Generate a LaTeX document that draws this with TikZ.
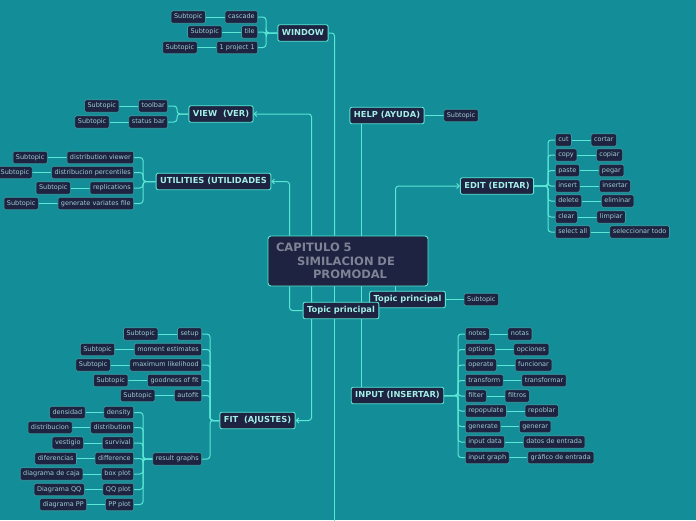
\documentclass[tikz,border=0pt]{standalone}
\usepackage{fontspec}
\setmainfont{DejaVu Sans}
\usetikzlibrary{arrows.meta,calc}
\definecolor{bgc}{HTML}{138E98}
\definecolor{nfill}{HTML}{1D2340}
\definecolor{lnc}{HTML}{5CE6D6}
\definecolor{sbord}{HTML}{3E9AA0}
\definecolor{mtext}{HTML}{A4EEE8}
\definecolor{stext}{HTML}{A0CDD2}
\definecolor{ctext}{HTML}{7E8396}
\pgfdeclarelayer{bg}
\pgfsetlayers{bg,main}
\tikzset{
  mainnode/.style={draw=lnc, fill=nfill, line width=0.9pt, rounded corners=2pt, text=mtext,
    font=\bfseries\fontsize{8.3}{10}\selectfont, inner xsep=4pt, inner ysep=0pt, minimum height=16.5pt,
    text height=6.1pt, text depth=1.7pt},
  subnode/.style={draw=sbord, fill=nfill, line width=0.6pt, rounded corners=1.5pt, text=stext,
    font=\fontsize{6.5}{7.5}\selectfont, inner xsep=3pt, inner ysep=0pt, minimum height=12.5pt,
    text height=4.9pt, text depth=1.4pt},
  link/.style={draw=lnc, line width=1pt, rounded corners=3pt},
  thin link/.style={draw=lnc, line width=0.9pt},
  arr/.style={-{Straight Barb[length=2.5pt,width=5pt]}}
}
\begin{document}
\begin{tikzpicture}[x=1pt,y=-1pt]
\useasboundingbox (0,0) rectangle (696,520);
\begin{pgfonlayer}{bg}
\fill[bgc] (0,0) rectangle (696,520);
\end{pgfonlayer}

% central
\node[draw=lnc, fill=nfill, line width=0.9pt, rounded corners=3pt, minimum width=160pt, minimum height=50pt,
  text width=144pt, inner xsep=8pt, align=left, text=ctext, font=\bfseries\fontsize{11.5}{13.5}\selectfont]
  (c) at (348,261) {CAPITULO 5\\\hspace*{21pt}SIMILACION DE\\\hspace*{37pt}PROMODAL};

% main topics
\node[mainnode] (win) at (303,33) {WINDOW};
\node[mainnode] (view) at (221,114) {VIEW\ \ (VER)};
\node[mainnode] (util) at (213.5,181.5) {UTILITIES (UTILIDADES};
\node[mainnode] (help) at (387,115.5) {HELP (AYUDA)};
\node[mainnode] (edit) at (497,186) {EDIT (EDITAR)};
\node[mainnode] (tp1) at (407.5,299.5) {Topic principal};
\node[mainnode] (tp2) at (341,310.5) {Topic principal};
\node[mainnode] (fit) at (257.5,420.5) {FIT\ \ (AJUSTES)};
\node[mainnode] (inp) at (397.5,395.5) {INPUT (INSERTAR)};

% central connectors
\coordinate (u1) at ($(c.north west)+(22,0)$);
\coordinate (u2) at ($(c.north west)+(44,0)$);
\coordinate (u3) at ($(c.north west)+(67,0)$);
\coordinate (u4) at ($(c.north west)+(94,0)$);
\coordinate (u5) at ($(c.north west)+(128,0)$);
\coordinate (d1) at ($(c.south west)+(22,0)$);
\coordinate (d2) at ($(c.south west)+(44,0)$);
\coordinate (d3) at ($(c.south west)+(67,0)$);
\coordinate (d4) at ($(c.south west)+(94,0)$);
\coordinate (d5) at ($(c.south west)+(128,0)$);
\coordinate (bottomend) at (335,530);
\begin{pgfonlayer}{bg}
\draw[link,arr] (u1) |- (util.east);
\draw[link,arr] (u2) |- (view.east);
\draw[link] (u3) |- (win.east);
\draw[link] (u4) -- (u4 |- help.south);
\draw[link,arr] (u5) |- (edit.west);
\draw[link] (d1) |- (tp2.west);
\draw[link,arr] (d2) |- (fit.east);
\draw[link] (d3) -- (d3 |- bottomend);
\draw[link] (d4) -- (d4 |- inp.north);
\draw[link] (d5) -- (d5 |- tp1.north);
\end{pgfonlayer}

% WINDOW
\coordinate (wb) at (266,33);
\foreach \n/\y/\t in {w1/17/cascade,w2/32/tile,w3/47.5/1 project 1}{
  \node[subnode,anchor=east] (\n) at (258,\y) {\t};
  \node[subnode,anchor=east] (\n s) at ([xshift=-19pt]\n.west) {Subtopic};
  \begin{pgfonlayer}{bg}
  \draw[link] (win.west) -- (wb) |- (\n.east);
  \draw[thin link] (\n.west) -- (\n s.east);
  \end{pgfonlayer}
}

% VIEW
\coordinate (vb) at (177,114);
\foreach \n/\y/\t in {v1/106/toolbar,v2/122/status bar}{
  \node[subnode,anchor=east] (\n) at (168,\y) {\t};
  \node[subnode,anchor=east] (\n s) at ([xshift=-19pt]\n.west) {Subtopic};
  \begin{pgfonlayer}{bg}
  \draw[link] (view.west) -- (vb) |- (\n.east);
  \draw[thin link] (\n.west) -- (\n s.east);
  \end{pgfonlayer}
}

% UTILITIES
\coordinate (ub) at (143,181.5);
\foreach \n/\y/\t in {ut1/157.5/distribution viewer,ut2/172.5/distribucion percentiles,ut3/188/replications,ut4/203.5/generate variates file}{
  \node[subnode,anchor=east] (\n) at (134,\y) {\t};
  \node[subnode,anchor=east] (\n s) at ([xshift=-19pt]\n.west) {Subtopic};
  \begin{pgfonlayer}{bg}
  \draw[link] (util.west) -- (ub) |- (\n.east);
  \draw[thin link] (\n.west) -- (\n s.east);
  \end{pgfonlayer}
}

% HELP
\node[subnode,anchor=west] (hs) at ([xshift=19pt]help.east) {Subtopic};
\begin{pgfonlayer}{bg}
\draw[thin link] (help.east) -- (hs.west);
\end{pgfonlayer}

% Topic principal (upper)
\node[subnode,anchor=west] (tps) at ([xshift=18pt]tp1.east) {Subtopic};
\begin{pgfonlayer}{bg}
\draw[thin link] (tp1.east) -- (tps.west);
\end{pgfonlayer}

% EDIT
\coordinate (eb) at (548,186);
\foreach \n/\y/\t/\g in {e1/140/cut/cortar,e2/155/copy/copiar,e3/170.5/paste/pegar,e4/186/insert/insertar,
  e5/201/delete/eliminar,e6/217/clear/limpiar,e7/232/select all/seleccionar todo}{
  \node[subnode,anchor=west] (\n) at (555,\y) {\t};
  \node[subnode,anchor=west] (\n s) at ([xshift=19pt]\n.east) {\g};
  \begin{pgfonlayer}{bg}
  \draw[link] (edit.east) -- (eb) |- (\n.west);
  \draw[thin link] (\n.east) -- (\n s.west);
  \end{pgfonlayer}
}

% FIT
\coordinate (fb) at (210,420.5);
\foreach \n/\y/\t in {f1/334/setup,f2/349.5/moment estimates,f3/365/maximum likelihood,f4/380.5/goodness of fit,f5/395.5/autofit}{
  \node[subnode,anchor=east] (\n) at (202,\y) {\t};
  \node[subnode,anchor=east] (\n s) at ([xshift=-19pt]\n.west) {Subtopic};
  \begin{pgfonlayer}{bg}
  \draw[link] (fit.west) -- (fb) |- (\n.east);
  \draw[thin link] (\n.west) -- (\n s.east);
  \end{pgfonlayer}
}
\node[subnode,anchor=east] (rg) at (202,459) {result graphs};
\begin{pgfonlayer}{bg}
\draw[link] (fit.west) -- (fb) |- (rg.east);
\end{pgfonlayer}

% result graphs
\coordinate (rb) at (143,459);
\foreach \n/\y/\t/\g in {r1/412.5/density/densidad,r2/427.5/distribution/distribucion,r3/443/survival/vestigio,
  r4/458.5/difference/diferencias,r5/474/box plot/diagrama de caja,r6/489.5/QQ plot/Diagrama QQ,r7/504.5/PP plot/diagrama PP}{
  \node[subnode,anchor=east] (\n) at (134,\y) {\t};
  \node[subnode,anchor=east] (\n s) at ([xshift=-18pt]\n.west) {\g};
  \begin{pgfonlayer}{bg}
  \draw[link] (rg.west) -- (rb) |- (\n.east);
  \draw[thin link] (\n.west) -- (\n s.east);
  \end{pgfonlayer}
}

% INPUT
\coordinate (ib) at (458,395.5);
\foreach \n/\y/\t/\g in {i1/334/notes/notas,i2/349.5/options/opciones,i3/365/operate/funcionar,
  i4/380.5/transform/transformar,i5/396/filter/filtros,i6/411/repopulate/repoblar,i7/426.5/generate/generar,
  i8/442/input data/datos de entrada,i9/457.5/input graph/gráfico de entrada}{
  \node[subnode,anchor=west] (\n) at (465,\y) {\t};
  \node[subnode,anchor=west] (\n s) at ([xshift=18pt]\n.east) {\g};
  \begin{pgfonlayer}{bg}
  \draw[link] (inp.east) -- (ib) |- (\n.west);
  \draw[thin link] (\n.east) -- (\n s.west);
  \end{pgfonlayer}
}
\end{tikzpicture}
\end{document}
